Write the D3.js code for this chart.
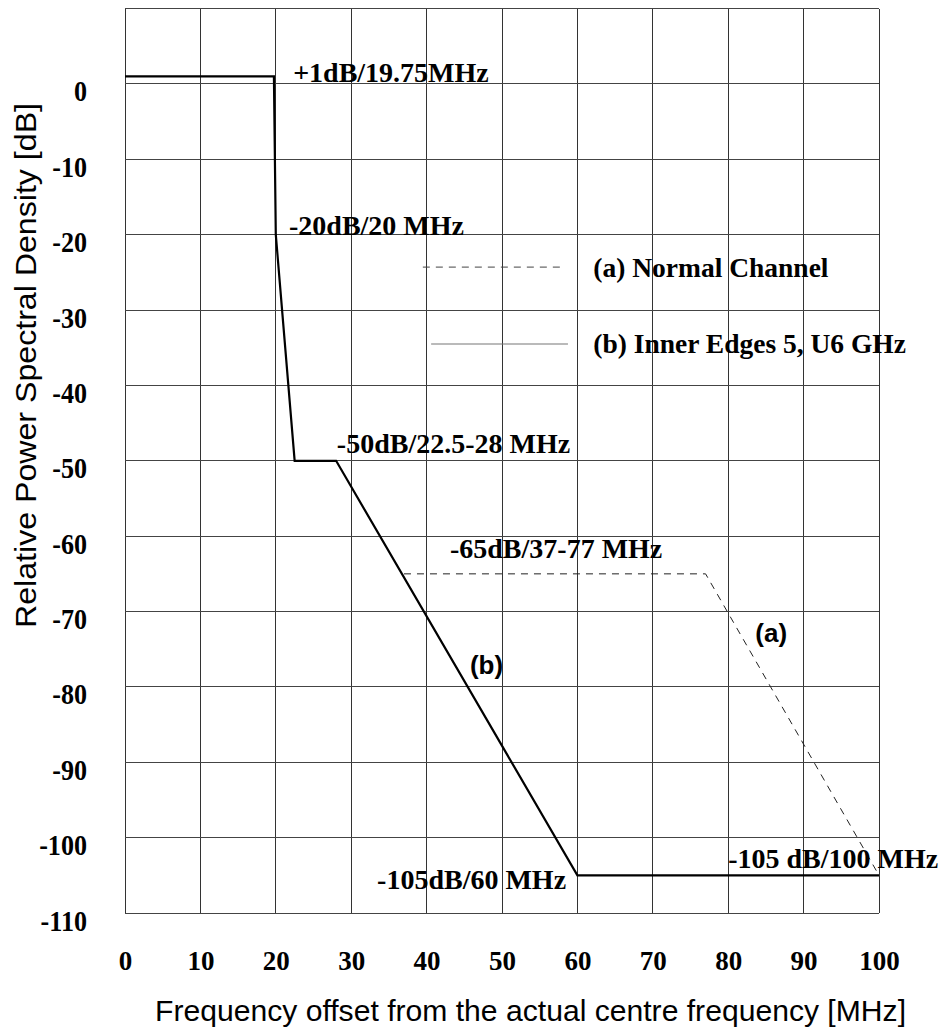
<!DOCTYPE html>
<html>
<head>
<meta charset="utf-8">
<script src="https://cdn.jsdelivr.net/npm/d3@7/dist/d3.min.js"></script>
<style>
  html, body { margin: 0; padding: 0; background: #fff; }
  svg { display: block; }
</style>
</head>
<body>
<svg id="chart" width="942" height="1028"></svg>
<script>
// ---- data ----
const xTicks = [0, 10, 20, 30, 40, 50, 60, 70, 80, 90, 100];
const yTicks = [0, -10, -20, -30, -40, -50, -60, -70, -80, -90, -100, -110];
// (b) Inner Edges 5, U6 GHz
const seriesBFreq = [0, 19.75, 20, 22.5, 28, 60, 100];
const seriesBdB   = [1, 1, -20, -50, -50, -105, -105];
// (a) Normal Channel (shown where it departs from (b))
const seriesAFreq = [37, 77, 100];
const seriesAdB   = [-65, -65, -105];
const legendLabels = ["(a) Normal Channel", "(b) Inner Edges 5, U6 GHz"];
const annotationTexts = ["+1dB/19.75MHz", "-20dB/20 MHz", "-50dB/22.5-28 MHz",
  "-65dB/37-77 MHz", "-105dB/60 MHz", "-105 dB/100 MHz"];
const curveTags = ["(a)", "(b)"];
const xTitle = "Frequency offset from the actual centre frequency [MHz]";
const yTitle = "Relative Power Spectral Density [dB]";

// ---- layout ----
const svg = d3.select("#chart");
const x = d3.scaleLinear().domain([0, 100]).range([125, 879]);
const y = d3.scaleLinear().domain([-110, 10]).range([913, 8.6]);
const serif = "'Liberation Serif','Times New Roman',serif";
const sans = "'Liberation Sans',Arial,sans-serif";

// grid
const g = svg.append("g");
g.selectAll("line.v").data(xTicks).join("line")
  .attr("x1", d => x(d)).attr("x2", d => x(d))
  .attr("y1", y(10)).attr("y2", y(-110))
  .attr("stroke", "#333").attr("stroke-width", 1).attr("shape-rendering", "crispEdges");
g.selectAll("line.h").data(d3.range(10, -111, -10)).join("line")
  .attr("x1", x(0)).attr("x2", x(100))
  .attr("y1", d => y(d)).attr("y2", d => y(d))
  .attr("stroke", "#444").attr("stroke-width", 1).attr("shape-rendering", "crispEdges");

// axes (labels only)
const xAxis = d3.axisBottom(x).tickValues(xTicks).tickSize(0).tickPadding(0).tickFormat(d3.format("d"));
const xa = svg.append("g").attr("transform", `translate(0,${y(-110)})`).call(xAxis);
xa.select(".domain").remove();
xa.selectAll("text").attr("font-family", serif).attr("font-weight", "bold")
  .attr("font-size", 27).attr("fill", "#000").attr("dy", null).attr("y", 57);

const yAxis = d3.axisLeft(y).tickValues(yTicks).tickSize(0).tickPadding(0).tickFormat(d => String(d));
const ya = svg.append("g").attr("transform", `translate(87,0)`).call(yAxis);
ya.select(".domain").remove();
ya.selectAll("text").attr("font-family", serif).attr("font-weight", "bold")
  .attr("font-size", 30).attr("fill", "#000").attr("dy", null).attr("y", 17).attr("x", 0)
  .attr("transform", "scale(0.87,1)");

// series
const line = d3.line().x(d => x(d[0])).y(d => y(d[1]));
svg.append("path")
  .attr("d", line(seriesAFreq.map((f, i) => [f, seriesAdB[i]])))
  .attr("fill", "none").attr("stroke", "#222").attr("stroke-width", 1)
  .attr("stroke-dasharray", "7,6");
svg.append("path")
  .attr("d", line(seriesBFreq.map((f, i) => [f, seriesBdB[i]])))
  .attr("fill", "none").attr("stroke", "#000").attr("stroke-width", 2.2)
  .attr("stroke-linejoin", "miter");

// legend
svg.append("line").attr("x1", x(39.5)).attr("x2", x(58.4)).attr("y1", y(-24.3)).attr("y2", y(-24.3))
  .attr("stroke", "#444").attr("stroke-width", 1).attr("stroke-dasharray", "7,6");
svg.append("line").attr("x1", x(40.6)).attr("x2", x(58.75)).attr("y1", y(-34.5)).attr("y2", y(-34.5))
  .attr("stroke", "#777").attr("stroke-width", 1.2);
const legendPos = [[62.1, -25.6], [62.1, -35.7]];
svg.selectAll("text.leg").data(legendLabels).join("text")
  .attr("x", (d, i) => x(legendPos[i][0])).attr("y", (d, i) => y(legendPos[i][1]))
  .attr("font-family", serif).attr("font-weight", "bold").attr("font-size", 27.5)
  .attr("fill", "#000").text(d => d);

// annotations
const annPos = [[22.3, 0.27, "start"], [21.75, -20.0, "start"], [28.1, -49.0, "start"],
  [43.1, -62.9, "start"], [58.5, -106.8, "end"], [80.0, -104.0, "start"]];
svg.selectAll("text.ann").data(annotationTexts).join("text")
  .attr("x", (d, i) => x(annPos[i][0])).attr("y", (d, i) => y(annPos[i][1]))
  .attr("text-anchor", (d, i) => annPos[i][2])
  .attr("font-family", serif).attr("font-weight", "bold").attr("font-size", 28)
  .attr("fill", "#000").text(d => d);

const tagPos = [[83.6, -74.0], [45.75, -78.3]];
svg.selectAll("text.tag").data(curveTags).join("text")
  .attr("x", (d, i) => x(tagPos[i][0])).attr("y", (d, i) => y(tagPos[i][1]))
  .attr("font-family", sans).attr("font-weight", "bold").attr("font-size", 26)
  .attr("fill", "#000").text(d => d);

// titles
svg.append("text").attr("x", 155).attr("y", 1021)
  .attr("font-family", sans).attr("font-size", 29).attr("fill", "#000")
  .attr("textLength", 751).attr("lengthAdjust", "spacingAndGlyphs").text(xTitle);
svg.append("text").attr("transform", "translate(36,628) rotate(-90)")
  .attr("font-family", sans).attr("font-size", 30).attr("fill", "#000")
  .attr("textLength", 525).attr("lengthAdjust", "spacingAndGlyphs").text(yTitle);
</script>
</body>
</html>
